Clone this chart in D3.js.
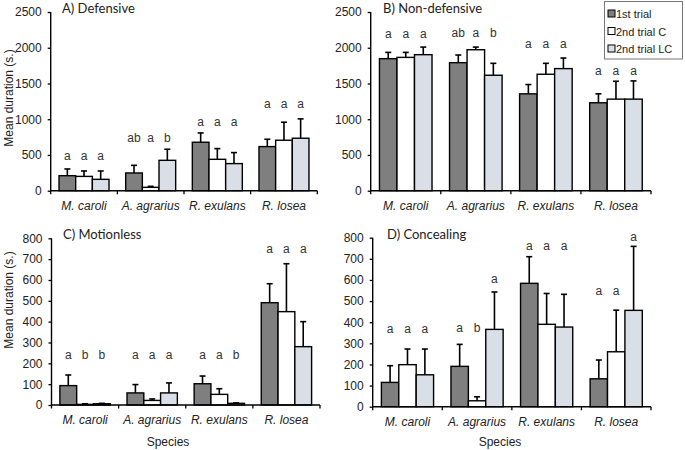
<!DOCTYPE html>
<html><head><meta charset="utf-8">
<script src="https://cdn.jsdelivr.net/npm/d3@7"></script>
<style>body{margin:0;background:#fff}svg{display:block}</style>
</head><body>
<svg id="c" width="685" height="450"></svg>
<script>
const species = ["M. caroli", "A. agrarius", "R. exulans", "R. losea"];
const trials = ["1st trial", "2nd trial C", "2nd trial LC"];

const defensiveMean = [[210,200,159],[248,47,425],[678,439,379],[617,706,734]];
const defensiveSE   = [[94,76,117],[107,14,155],[130,150,154],[103,252,271]];
const defensiveLetters = [["a","a","a"],["ab","a","b"],["a","a","a"],["a","a","a"]];
const defensiveLetterAt = [[481,481,481],[738,738,738],[967,967,967],[1215,1215,1215]];

const nondefMean = [[1847,1865,1903],[1791,1972,1615],[1355,1629,1708],[1230,1281,1281]];
const nondefSE   = [[88,70,106],[107,37,167],[130,153,148],[125,250,255]];
const nondefLetters = [["a","a","a"],["ab","a","b"],["a","a","a"],["a","a","a"]];
const nondefLetterAt = [[2195,2195,2195],[2209,2209,2209],[2051,2051,2051],[1670,1670,1670]];

const motionMean = [[93,3,6],[58,22,58],[102,51,8],[491,448,280]];
const motionSE   = [[51,3,2],[40,7,48],[37,27,2],[91,230,120]];
const motionLetters = [["a","b","b"],["a","a","a"],["a","a","b"],["a","a","a"]];
const motionLetterAt = [[240,240,240],[240,240,240],[240,240,240],[747,747,747]];

const concealMean = [[115,199,151],[191,28,366],[584,390,377],[132,260,456]];
const concealSE   = [[79,74,122],[104,19,177],[126,146,155],[89,197,303]];
const concealLetters = [["a","a","a"],["a","b","a"],["a","a","a"],["a","a","a"]];
const concealLetterAt = [[368,368,368],[371,371,603],[762,762,762],[547,547,801]];

const yTicksBig = [0,500,1000,1500,2000,2500];
const yTicksSmall = [0,100,200,300,400,500,600,700,800];

const colors = ["#7f7f7f", "#ffffff", "#d9dee7"];
const svg = d3.select("#c");
const font = "'Liberation Sans', Arial, sans-serif";

const panels = [
  {title:"A) Defensive", mean:defensiveMean, se:defensiveSE, letters:defensiveLetters, at:defensiveLetterAt,
   ticks:yTicksBig, max:2500, x0:50.7, x1:317.3, yb:190.7, yt:12, tx:62, ty:13, ylab:true, ylabY:98, xlab:false},
  {title:"B) Non-defensive", mean:nondefMean, se:nondefSE, letters:nondefLetters, at:nondefLetterAt,
   ticks:yTicksBig, max:2500, x0:370.7, x1:651, yb:190.7, yt:12, tx:383, ty:13, ylab:false, xlab:false},
  {title:"C) Motionless", mean:motionMean, se:motionSE, letters:motionLetters, at:motionLetterAt,
   ticks:yTicksSmall, max:800, x0:51.5, x1:320, yb:405, yt:238.3, tx:63, ty:239, ylab:true, ylabY:300, xlab:true, xlabX:168},
  {title:"D) Concealing", mean:concealMean, se:concealSE, letters:concealLetters, at:concealLetterAt,
   ticks:yTicksSmall, max:800, x0:372.7, x1:651, yb:406.7, yt:237.7, tx:387, ty:239, ylab:false, xlab:true, xlabX:500}
];

panels.forEach(p => {
  const g = svg.append("g");
  const x = d3.scaleBand().domain(species).range([p.x0, p.x1]).padding(0);
  const xs = d3.scaleBand().domain(trials).range([x.bandwidth()*0.125, x.bandwidth()*0.875]).padding(0);
  const y = d3.scaleLinear().domain([0, p.max]).range([p.yb, p.yt]);

  species.forEach((sp, i) => {
    trials.forEach((t, j) => {
      const bx = x(sp) + xs(t);
      const bw = xs.bandwidth();
      const m = p.mean[i][j], e = p.se[i][j];
      const cx = bx + bw/2;
      g.append("line").attr("x1", cx).attr("x2", cx)
        .attr("y1", y(m)).attr("y2", y(m+e)).attr("stroke", "#000").attr("stroke-width", 1.6);
      g.append("line").attr("x1", cx-3).attr("x2", cx+3)
        .attr("y1", y(m+e)).attr("y2", y(m+e)).attr("stroke", "#000").attr("stroke-width", 1.6);
      g.append("rect").attr("x", bx).attr("y", y(m)).attr("width", bw).attr("height", y(0)-y(m))
        .attr("fill", colors[j]).attr("stroke", "#000").attr("stroke-width", 1.4);
      g.append("text").attr("x", cx).attr("y", y(p.at[i][j]) + 4)
        .attr("text-anchor", "middle").attr("font-family", font).attr("font-size", 12)
        .attr("fill", "#333").text(p.letters[i][j]);
    });
  });

  const ya = d3.axisLeft(y).tickValues(p.ticks).tickSize(3).tickPadding(6).tickFormat(d3.format("d"));
  const yg = g.append("g").attr("transform", `translate(${p.x0},0)`).call(ya);
  yg.select(".domain").attr("d", `M0,${p.yb}V${p.yt}`).attr("stroke-width", 1.4);
  yg.selectAll(".tick line").attr("stroke-width", 1.3);
  yg.selectAll("text").attr("font-family", font).attr("font-size", 12).attr("fill", "#222");

  g.append("line").attr("x1", p.x0).attr("x2", p.x1).attr("y1", p.yb).attr("y2", p.yb)
    .attr("stroke", "#000").attr("stroke-width", 1.4);
  species.concat([null]).forEach(sp => {
    const xx = sp === null ? p.x1 : x(sp);
    g.append("line").attr("x1", xx).attr("x2", xx).attr("y1", p.yb).attr("y2", p.yb+3.5)
      .attr("stroke", "#000").attr("stroke-width", 1.3);
  });
  species.forEach(sp => {
    g.append("text").attr("x", x(sp) + x.bandwidth()/2).attr("y", p.yb + 19)
      .attr("text-anchor", "middle").attr("font-family", font).attr("font-style", "italic")
      .attr("font-size", 12).attr("fill", "#222").text(sp);
  });

  g.append("text").attr("x", p.tx).attr("y", p.ty).attr("font-family", "Lato, 'Open Sans', sans-serif")
    .attr("font-size", 13).attr("fill", "#222").text(p.title);

  if (p.ylab) {
    g.append("text").attr("transform", `translate(13,${p.ylabY}) rotate(-90)`)
      .attr("text-anchor", "middle").attr("font-family", font).attr("font-size", 12)
      .attr("fill", "#222").text("Mean duration (s.)");
  }
  if (p.xlab) {
    g.append("text").attr("x", p.xlabX).attr("y", 446).attr("text-anchor", "middle")
      .attr("font-family", font).attr("font-size", 12).attr("fill", "#222").text("Species");
  }
});

const lg = svg.append("g");
lg.append("rect").attr("x", 604.5).attr("y", 1.5).attr("width", 78).attr("height", 57.5)
  .attr("fill", "#fff").attr("stroke", "#777").attr("stroke-width", 1);
trials.forEach((t, j) => {
  const yy = 14 + j*17.5;
  lg.append("rect").attr("x", 608).attr("y", yy-4).attr("width", 7).attr("height", 7)
    .attr("fill", colors[j]).attr("stroke", "#000").attr("stroke-width", 1);
  lg.append("text").attr("x", 616).attr("y", yy+4).attr("font-family", font).attr("font-size", 11)
    .attr("fill", "#222").text(t);
});
</script>
</body></html>
